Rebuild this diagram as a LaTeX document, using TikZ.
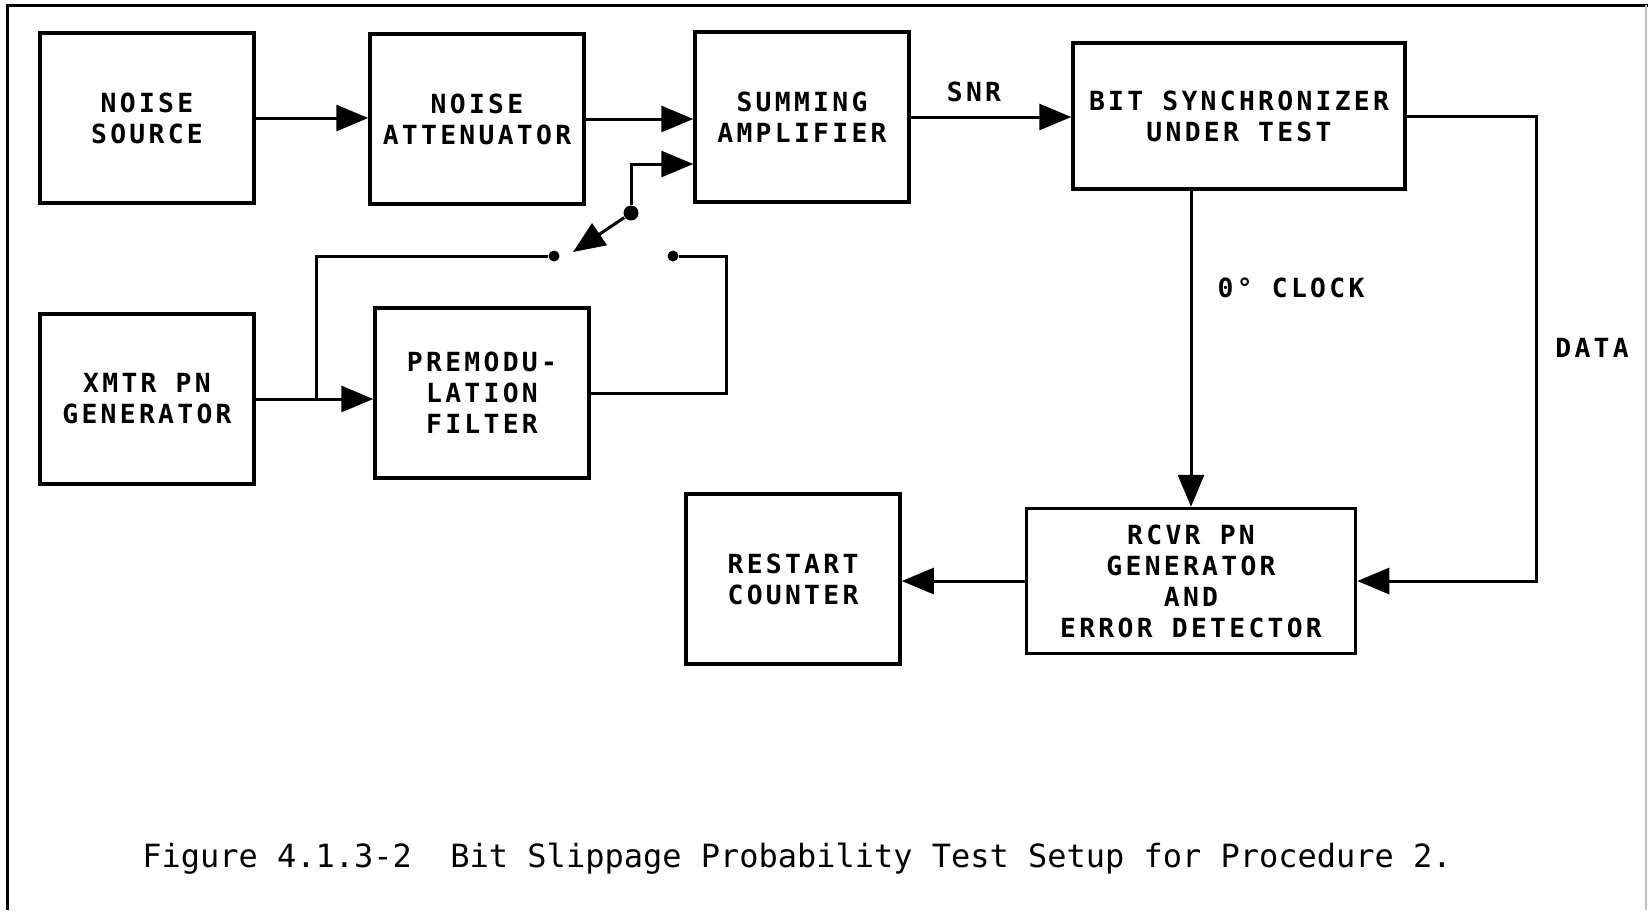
\documentclass[tikz,border=0pt]{standalone}
\usepackage{fontspec}
\usepackage{tikz}
\usetikzlibrary{arrows.meta}

\newfontfamily\boxfont[LetterSpace=12.5]{DejaVu Sans Mono}
\newfontfamily\capfont{DejaVu Sans Mono}

\tikzset{
  block/.style={draw, line width=0.35mm, minimum width=21.4mm, minimum height=17mm,
    inner sep=0pt, align=center, font=\boxfont\bfseries\fontsize{7.5pt}{8.8pt}\selectfont},
  lbl/.style={font=\boxfont\bfseries\fontsize{7.5pt}{8.8pt}\selectfont},
  wire/.style={line width=0.3mm},
  arr/.style={wire, -{Triangle[length=3.2mm,width=2.6mm]}},
  dot/.style={circle, fill, inner sep=0pt, minimum size=1.1mm}
}

\begin{document}
\begin{tikzpicture}[x=0.1mm, y=-0.1mm]
  \useasboundingbox (0,0) rectangle (1648,910);
  \draw[line width=0.3mm] (7,910) -- (7,5) -- (1648,5);
  \draw[gray!50] (1646,5) -- (1646,910);

  % top row
  \node[block] (ns) at (147,118) {NOISE\\SOURCE};
  \node[block] (na) at (477,119) {NOISE\\ATTENUATOR};
  \node[block] (sa) at (802,117) {SUMMING\\AMPLIFIER};
  \node[block, minimum width=33.2mm, minimum height=14.6mm] (bs) at (1239,116) {BIT SYNCHRONIZER\\UNDER TEST};

  % PN source side
  \node[block] (xm) at (147,399) {XMTR PN\\GENERATOR};
  \node[block] (pm) at (482,393) {PREMODU-\\LATION\\FILTER};

  % receiver side
  \node[block] (rc) at (793,579) {RESTART\\COUNTER};
  \node[block, minimum width=32.9mm, minimum height=14.5mm] (rx) at (1191,581) {RCVR PN\\GENERATOR\\AND\\ERROR DETECTOR};

  % switch
  \node[dot, minimum size=1.5mm] (pv) at (631,213) {};
  \node[dot] (c1) at (554,256) {};
  \node[dot] (c2) at (673,256) {};
  \coordinate (sw) at (573,252);
  \coordinate (si) at (696,164);
  \path (xm.east) ++(61,0) coordinate (br);

  \draw[arr] (ns.east) -- (ns.east -| na.west);
  \draw[arr] (na.east) -- (na.east -| sa.west);
  \draw[arr] (sa.east) -- (sa.east -| bs.west);
  \draw[arr] (bs.south -| rx.north) -- (rx.north);
  \draw[arr] (bs.east) -- ++(130,0) |- (rx.east);
  \draw[arr] (rx.west) -- (rx.west -| rc.east);
  \draw[arr] (xm.east) -- (xm.east -| pm.west);
  \draw[wire] (br) |- (c1);
  \draw[wire] (pm.east) -- ++(136,0) |- (c2);
  \draw[arr] (pv) -- (sw);
  \draw[arr] (pv) |- (sa.west |- si);

  % labels
  \node[lbl] (snr) at (974,92) {SNR};
  \node[lbl] (clk) at (1291,288) {0° CLOCK};
  \node[lbl] (dat) at (1592,348) {DATA};

  \node[anchor=west, font=\capfont\fontsize{9.1pt}{11pt}\selectfont] (cap) at (130,859)
    {Figure 4.1.3-2\ \ Bit Slippage Probability Test Setup for Procedure 2.};
\end{tikzpicture}
\end{document}
